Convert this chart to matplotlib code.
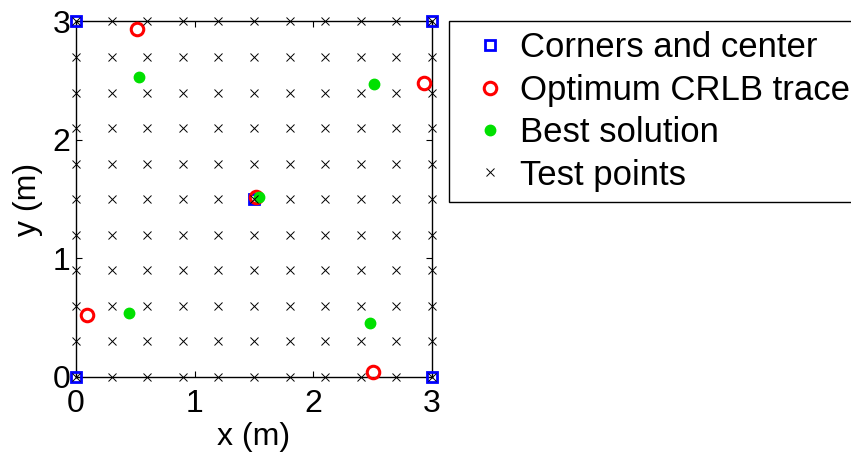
import matplotlib
matplotlib.use("Agg")
import matplotlib.pyplot as plt
import numpy as np

plt.rcParams['font.family'] = ['Liberation Sans', 'DejaVu Sans']

# Datos
esquinas_x = [0, 3, 0, 3, 1.5]
esquinas_y = [0, 0, 3, 3, 1.5]

crlb_x = [0.51, 2.93, 0.09, 2.50, 1.52]
crlb_y = [2.94, 2.48, 0.52, 0.04, 1.52]

mejor_x = [0.53, 2.51, 0.45, 2.48, 1.54]
mejor_y = [2.53, 2.47, 0.54, 0.45, 1.52]

grid_vals = [0, 0.3, 0.6, 0.9, 1.2, 1.5, 1.8, 2.1, 2.4, 2.7, 3.0]
gx, gy = np.meshgrid(grid_vals, grid_vals)

etiquetas = ['Corners and center', 'Optimum CRLB trace', 'Best solution', 'Test points']

fig = plt.figure(figsize=(8.51, 4.57), dpi=100)
ax = fig.add_axes([0.0893, 0.1757, 0.4183, 0.7773])

ax.plot(esquinas_x, esquinas_y, 's', color='blue', mfc='none', mew=2.0, ms=7,
        clip_on=False, label=etiquetas[0], zorder=3)
ax.plot(crlb_x, crlb_y, 'o', color='red', mfc='none', mew=2.2, ms=9,
        clip_on=False, label=etiquetas[1], zorder=3)
ax.plot(mejor_x, mejor_y, 'o', color='#00e000', mec='#00e000', ms=7.5,
        clip_on=False, label=etiquetas[2], zorder=3)
ax.plot(gx.ravel(), gy.ravel(), 'x', color='black', ms=5.5, mew=0.7,
        clip_on=False, label=etiquetas[3], zorder=4)

ax.set_xlim(0, 3)
ax.set_ylim(0, 3)
ax.set_xticks([0, 1, 2, 3])
ax.set_yticks([0, 1, 2, 3])
ax.tick_params(direction='in', top=True, right=True, length=4, width=0.8,
               labelsize=23)
ax.tick_params(axis='x', pad=9)
ax.tick_params(axis='y', pad=4)
for s in ax.spines.values():
    s.set_linewidth(1.0)

ax.set_xlabel('x (m)', fontsize=23, labelpad=2)
ax.set_ylabel('y (m)', fontsize=23, labelpad=7)

leg = ax.legend(loc='upper left', bbox_to_anchor=(449 / 851, 1 - 21 / 457),
                bbox_transform=fig.transFigure, fontsize=25, fancybox=False,
                framealpha=1, edgecolor='black', borderpad=0.3,
                handletextpad=0.0, labelspacing=0.27, handlelength=1.75,
                borderaxespad=0)
leg.get_frame().set_linewidth(1.0)

fig.savefig('out.png', dpi=100)
